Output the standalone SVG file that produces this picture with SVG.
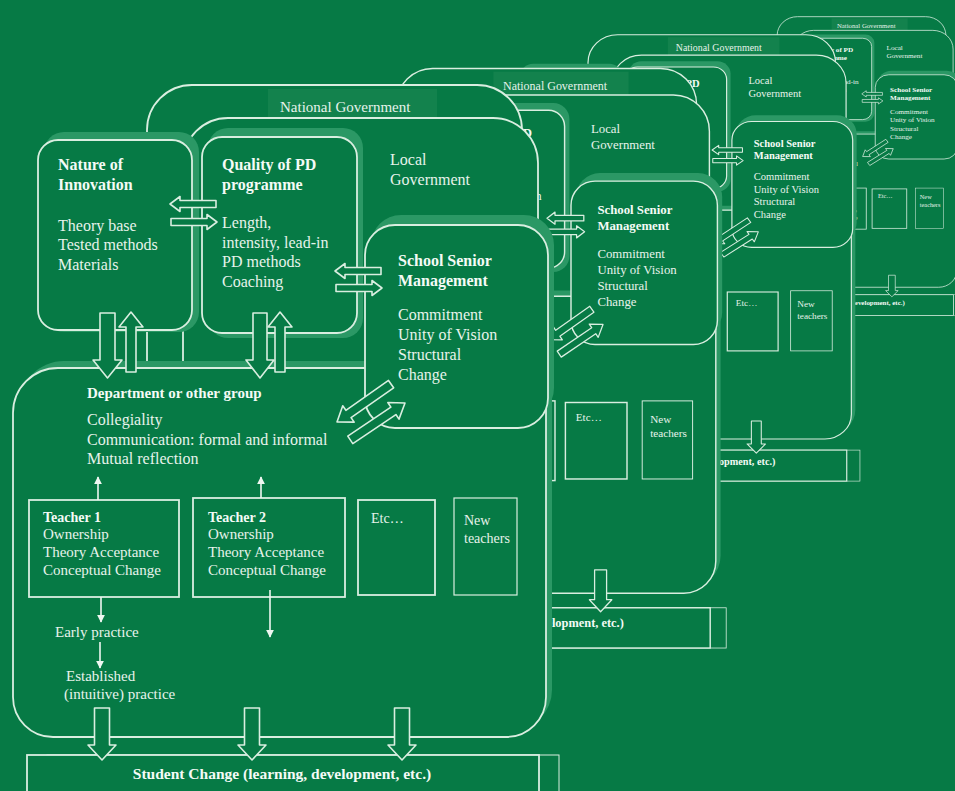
<svg xmlns="http://www.w3.org/2000/svg" width="955" height="791" viewBox="0 0 955 791">
<defs>
<style>
.box{fill:#067a45;stroke:#d9eee0;stroke-width:1.8}
.sh{fill:#2b9865}
.lbl{fill:#13824d}
.tb{fill:none;stroke:#d9eee0;stroke-width:1.8}
.t{font-family:"Liberation Serif","Times New Roman",serif;font-size:16px;fill:#e6f3eb}
.b{font-weight:bold;fill:#f4fbf6}
.s15{font-size:15px}
.s14{font-size:14px}
.ha{fill:#067a45;stroke:#d9eee0;stroke-width:1.6;stroke-linejoin:round}
.ln{stroke:#eef7f1;stroke-width:1.6;fill:none}
</style>
<marker id="ah" viewBox="0 0 10 10" refX="9" refY="5" markerWidth="8" markerHeight="8" markerUnits="userSpaceOnUse" orient="auto">
<path d="M0,0 L10,5 L0,10 Z" fill="#eef7f1"/>
</marker>
<path id="harrow" class="ha" d="M0,0 L10,-7.5 L10,-3.5 L46,-3.5 L46,3.5 L10,3.5 L10,7.5 Z"/>
<path id="darrow" class="ha" d="M0,0 L14,-10 L14,-4.5 L66,-4.5 L66,4.5 L14,4.5 L14,10 Z"/>
</defs>
<rect width="955" height="791" fill="#067a45"/>
<use href="#front" transform="translate(711,-18.6) scale(0.45,0.415)"/>
<use href="#front" transform="translate(491,-18) scale(0.66,0.62)"/>
<use href="#front" transform="translate(279,0) scale(0.8,0.805)"/>
<g id="front">
<g id="national-government">
<path class="box" d="M147,395 V130 A45,45 0 0 1 192,85 H477 A45,45 0 0 1 522,130 V395"/>
<rect class="lbl" x="268" y="89" width="169" height="29"/>
<text class="t s15" x="280" y="112">National Government</text>
</g>
<g id="local-government">
<path class="box" d="M183,395 V163 A45,45 0 0 1 228,118 H493 A45,45 0 0 1 538,163 V395"/>
<text class="t" x="390" y="165">Local</text>
<text class="t" x="390" y="185">Government</text>
</g>
<g id="nature-of-innovation">
<rect class="sh" x="44" y="132" width="155" height="200" rx="20"/>
<rect class="box" x="38" y="140" width="154" height="190" rx="20"/>
<text class="t b" x="58" y="170">Nature of</text>
<text class="t b" x="58" y="190">Innovation</text>
<text class="t" x="58" y="231">Theory base</text>
<text class="t" x="58" y="250">Tested methods</text>
<text class="t" x="58" y="270">Materials</text>
</g>
<g id="quality-of-pd">
<rect class="sh" x="208" y="128" width="155" height="210" rx="20"/>
<rect class="box" x="202" y="137" width="155" height="196" rx="20"/>
<text class="t b" x="222" y="170">Quality of PD</text>
<text class="t b" x="222" y="190">programme</text>
<text class="t" x="222" y="228">Length,</text>
<text class="t" x="222" y="248">intensity, lead-in</text>
<text class="t" x="222" y="267">PD methods</text>
<text class="t" x="222" y="287">Coaching</text>
</g>
<g id="department">
<path class="sh" d="M19,406 A45,45 0 0 1 64,361 H512 A40,40 0 0 1 552,401 V690 A40,40 0 0 1 512,730 H59 A40,40 0 0 1 19,690 Z"/>
<path class="box" d="M13,413 A45,45 0 0 1 58,368 H506 A40,40 0 0 1 546,408 V697 A40,40 0 0 1 506,737 H53 A40,40 0 0 1 13,697 Z"/>
<text class="t b s15" x="87" y="398">Department or other group</text>
<text class="t" x="87" y="425">Collegiality</text>
<text class="t" x="87" y="445">Communication: formal and informal</text>
<text class="t" x="87" y="464">Mutual reflection</text>
<text class="t s15" x="55" y="637">Early practice</text>
<text class="t s15" x="66" y="681">Established</text>
<text class="t s15" x="64" y="699">(intuitive) practice</text>
</g>
<g id="teacher-1">
<rect class="tb" x="29" y="500" width="150" height="97"/>
<text class="t b s14" x="43" y="522">Teacher 1</text>
<text class="t s15" x="43" y="539">Ownership</text>
<text class="t s15" x="43" y="557">Theory Acceptance</text>
<text class="t s15" x="43" y="575">Conceptual Change</text>
</g>
<g id="teacher-2">
<rect class="tb" x="193" y="498" width="152" height="99"/>
<text class="t b s14" x="208" y="522">Teacher 2</text>
<text class="t s15" x="208" y="539">Ownership</text>
<text class="t s15" x="208" y="557">Theory Acceptance</text>
<text class="t s15" x="208" y="575">Conceptual Change</text>
</g>
<g id="etc">
<rect class="tb" x="358" y="500" width="77" height="95"/>
<text class="t s14" x="371" y="523">Etc…</text>
</g>
<g id="new-teachers">
<rect class="tb" x="454" y="498" width="63" height="97" style="stroke-width:1.2"/>
<text class="t s14" x="464" y="525">New</text>
<text class="t s14" x="464" y="543">teachers</text>
</g>
<g id="student-change">
<rect class="tb" x="47" y="755" width="512" height="50" style="stroke-width:1"/>
<rect class="box" x="27" y="755" width="512" height="50"/>
<text class="t b" x="282" y="779" text-anchor="middle" style="font-size:15.5px">Student Change (learning, development, etc.)</text>
</g>
<g id="school-senior-management">
<rect class="sh" x="371" y="215" width="183" height="203" rx="30"/>
<rect class="box" x="365" y="225" width="183" height="203" rx="30"/>
<text class="t b" x="398" y="266">School Senior</text>
<text class="t b" x="398" y="286">Management</text>
<text class="t" x="398" y="320">Commitment</text>
<text class="t" x="398" y="340">Unity of Vision</text>
<text class="t" x="398" y="360">Structural</text>
<text class="t" x="398" y="380">Change</text>
</g>
<g id="connectors">
<use href="#harrow" transform="translate(170,204)"/>
<use href="#harrow" transform="translate(217,222) scale(-1,1)"/>
<use href="#harrow" transform="translate(335,271)"/>
<use href="#harrow" transform="translate(382,288) scale(-1,1)"/>
<use href="#darrow" transform="translate(337,422) rotate(-35)"/>
<use href="#darrow" transform="translate(405,403) rotate(146)"/>
<path class="ha" d="M100,313 H115 V360 H122 L107.5,378 L93,360 H100 Z"/>
<path class="ha" d="M131,312 L143,327 H136 V372 H126 V327 H119 Z"/>
<path class="ha" d="M253,313 H267 V360 H274 L260,378 L246,360 H253 Z"/>
<path class="ha" d="M280,312 L292,327 H285 V372 H275 V327 H268 Z"/>
<path class="ha" d="M94.5,708 H109.5 V745 H116 L102,760 L88,745 H94.5 Z"/>
<path class="ha" d="M244.5,708 H259.5 V745 H266 L252,760 L238,745 H244.5 Z"/>
<path class="ha" d="M394.5,708 H409.5 V745 H416 L402,760 L388,745 H394.5 Z"/>
<line class="ln" x1="98" y1="500" x2="98" y2="477" marker-end="url(#ah)"/>
<line class="ln" x1="261" y1="498" x2="261" y2="477" marker-end="url(#ah)"/>
<line class="ln" x1="101" y1="597" x2="101" y2="622" marker-end="url(#ah)"/>
<line class="ln" x1="100" y1="642" x2="100" y2="668" marker-end="url(#ah)"/>
<line class="ln" x1="270" y1="590" x2="270" y2="637" marker-end="url(#ah)"/>
</g>
</g>
</svg>
